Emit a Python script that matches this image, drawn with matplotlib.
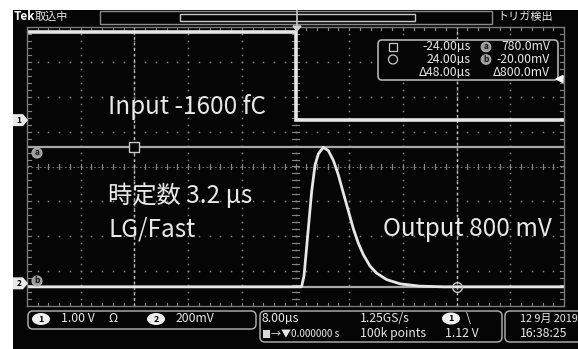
import matplotlib
matplotlib.use('Agg')

import matplotlib.pyplot as plt
from matplotlib.patches import Rectangle, FancyBboxPatch, Polygon, Circle, Ellipse
import numpy as np

plt.rcParams['font.family'] = ['Noto Sans CJK JP', 'DejaVu Sans']
NARROW = ['Liberation Sans Narrow', 'Noto Sans CJK JP', 'DejaVu Sans']

W, H = 578, 349

# scope settings
t_div = 8.0        # us/div
ch1_vdiv = 1.0     # V/div
ch2_vdiv = 200.0   # mV/div
ch1_pos = 1.33     # ground marker, div
ch2_pos = -3.35

# ch1 : input step
in_t = [-40.0, 0.0, 0.0, 40.0]
in_v = [2.52, 2.52, 0.0, 0.0]

# ch2 : shaper output
out_t = [-40.0, 0.9, 1.27, 1.67, 2.06, 2.41, 2.91, 3.40, 4.14, 4.89, 5.63, 6.38,
         7.12, 7.87, 8.61, 9.36, 10.1, 11.1, 12.1, 13.6, 15.6, 18.5, 22.0, 40.0]
out_mv = [-20, -20, 43, 211, 379, 528, 678, 742, 780, 761, 706, 622,
          519, 416, 314, 230, 165, 99, 58, 21, -3, -16, -20, -20]

# cursors
cur_t = [-24.0, 24.0]
cur_mv = [780.0, -20.0]
cur_t_txt = ['-24.00µs', '24.00µs', 'Δ48.00µs']
cur_v_txt = ['780.0mV', '-20.00mV', 'Δ800.0mV']

notes = ['Input -1600 fC', '時定数 3.2 µs', 'LG/Fast', 'Output 800 mV']

trace_c = '#e6e6e6'
grid_c = '#858585'
txt_c = '#e8e8e8'


def ch1_div(v):
    return np.asarray(v) / ch1_vdiv + ch1_pos


def ch2_div(mv):
    return np.asarray(mv) / ch2_vdiv + ch2_pos


fig = plt.figure(figsize=(W / 100, H / 100), dpi=100, facecolor='white')

# pixel-space background layer (screen frame)
bg = fig.add_axes([0, 0, 1, 1], facecolor='none', zorder=-5)
bg.set_xlim(0, W)
bg.set_ylim(H, 0)
bg.axis('off')
bg.add_patch(Rectangle((13, 10), W, H, facecolor='#050505', edgecolor='none'))

# graticule
gl, gr, gt, gb = 27, 564, 27, 306
ax = fig.add_axes([gl / W, 1 - gb / H, (gr - gl) / W, (gb - gt) / H], zorder=1)
ax.set_facecolor('#050505')
ax.set_xlim(-5 * t_div, 5 * t_div)
ax.set_ylim(-4, 4)
ax.set_xticks([])
ax.set_yticks([])
for s in ax.spines.values():
    s.set_color('#7a7a7a')
    s.set_linewidth(1)

mx = np.arange(-40, 40.01, t_div / 5)
my = np.arange(-4, 4.01, 0.2)
for gx in np.arange(-32, 33, 8):
    ax.plot(np.full_like(my, gx), my, ls='', marker='s', ms=1.1, mew=0, color=grid_c)
for gy in range(-3, 4):
    ax.plot(mx, np.full_like(mx, gy), ls='', marker='s', ms=1.1, mew=0, color=grid_c)

# crosshair and border ticks
for x in mx:
    ax.plot([x, x], [-0.07, 0.07], color=grid_c, lw=0.8)
    ax.plot([x, x], [-4, -3.9], color=grid_c, lw=0.8)
    ax.plot([x, x], [3.9, 4], color=grid_c, lw=0.8)
for y in my:
    ax.plot([-0.5, 0.5], [y, y], color=grid_c, lw=0.8)
    ax.plot([-40, -39.4], [y, y], color=grid_c, lw=0.8)
    ax.plot([39.4, 40], [y, y], color=grid_c, lw=0.8)
ax.axhline(0, color=grid_c, lw=0.6, ls=(0, (2, 3)))

# cursor lines
for t in cur_t:
    ax.axvline(t, color='#bdbdbd', lw=1, ls=(0, (2, 2)))
for mv in cur_mv:
    ax.axhline(ch2_div(mv), color='#a8a8a8', lw=1.6)
ax.plot(cur_t[0], ch2_div(cur_mv[0]), marker='s', ms=7, mfc='#050505', mec='#c8c8c8', mew=1)

# traces
ax.plot(in_t, ch1_div(in_v), color=trace_c, lw=2.6, solid_joinstyle='miter')
ax.plot(out_t, ch2_div(out_mv), color=trace_c, lw=2.0)
ax.plot(cur_t[1], ch2_div(cur_mv[1]), marker='o', ms=7, mfc='none', mec='#c8c8c8', mew=1)

# annotations
ax.text(-27.9, ch1_div(0.38), notes[0], color=txt_c, fontsize=17.5, va='center')
ax.text(-27.9, -0.85, notes[1], color=txt_c, fontsize=17.5, va='center')
ax.text(-27.9, -1.8, notes[2], color=txt_c, fontsize=17.5, va='center')
ax.text(13.0, -1.8, notes[3], color=txt_c, fontsize=17.5, va='center')

# pixel-space overlay for the scope frame
ov = fig.add_axes([0, 0, 1, 1], facecolor='none', zorder=5)
ov.set_xlim(0, W)
ov.set_ylim(H, 0)
ov.axis('off')

# header
ov.text(14, 17, 'Tek', color='white', fontsize=8.5, fontweight='bold', va='center')
ov.text(35, 17, '取込中', color=txt_c, fontsize=8, va='center')
ov.text(497, 17, 'トリガ検出', color=txt_c, fontsize=8, va='center')
ov.add_patch(Rectangle((100, 11), 392, 13, fill=False, edgecolor='#8c8c8c', lw=1))
ov.add_patch(Rectangle((180, 14), 235, 7, fill=False, edgecolor='#c8c8c8', lw=1))
ov.plot([297, 297], [11, 30], color='#c8c8c8', lw=1.2)
ov.add_patch(Polygon([[293, 26], [301, 26], [297, 31]], closed=True, color='#d0d0d0'))


def ch_marker(y, label):
    ov.add_patch(Polygon([[13, y - 6], [23, y - 6], [28, y], [23, y + 6], [13, y + 6]],
                         closed=True, facecolor='#e8e8e8', edgecolor='none'))
    ov.text(19, y, label, color='black', fontsize=6, ha='center', va='center', fontweight='bold')


def cur_badge(x, y, label, r=5):
    ov.add_patch(Circle((x, y), r, facecolor='#9a9a9a', edgecolor='#b0b0b0', lw=0.8))
    ov.text(x, y - 0.5, label, color='#151515', fontsize=6, ha='center', va='center',
            fontweight='bold')


px1 = gb - (ch1_pos + 4) * (gb - gt) / 8
px2 = gb - (ch2_pos + 4) * (gb - gt) / 8
ch_marker(px1, '1')
ch_marker(px2, '2')
cur_badge(37, 153, 'a')
cur_badge(37, 281, 'b')

# cursor readout
ov.add_patch(FancyBboxPatch((378, 40), 180, 40, boxstyle='round,pad=0,rounding_size=4',
                            facecolor='#050505', edgecolor='#b0b0b0', lw=1.2))
ov.add_patch(Rectangle((389, 43), 8, 8, fill=False, edgecolor='#c8c8c8', lw=0.9))
ov.add_patch(Circle((393, 59.5), 4.5, fill=False, edgecolor='#c8c8c8', lw=0.9))
rows = [47, 59.5, 72]
for i, y in enumerate(rows):
    ov.text(471, y, cur_t_txt[i], color=txt_c, fontsize=8.8, ha='right', va='center', family=NARROW)
    ov.text(550, y, cur_v_txt[i], color=txt_c, fontsize=8.8, ha='right', va='center', family=NARROW)
cur_badge(486, 47, 'a', 4.8)
cur_badge(486, 59.5, 'b', 4.8)
ov.add_patch(Polygon([[556, 79], [563, 75.5], [563, 82.5]], closed=True, color='white'))

# status bar
for x0, x1, y1 in [(28, 256, 329), (260, 502, 342), (505, 590, 342)]:
    ov.add_patch(FancyBboxPatch((x0, 311), x1 - x0, y1 - 311,
                                boxstyle='round,pad=0,rounding_size=5',
                                facecolor='#050505', edgecolor='#a8a8a8', lw=1.1))


def ch_badge(x, y, label):
    ov.add_patch(Ellipse((x, y), 18, 12, facecolor='#f0f0f0', edgecolor='none'))
    ov.text(x, y, label, color='black', fontsize=6.5, ha='center', va='center', fontweight='bold')


fs = 8.8
ch_badge(41, 319, '1')
ov.text(61, 319, f'{ch1_vdiv:.2f} V', color=txt_c, fontsize=fs, va='center', family=NARROW)
ov.text(108, 319, 'Ω', color=txt_c, fontsize=fs, va='center', family=NARROW)
ch_badge(156, 319, '2')
ov.text(176, 319, f'{ch2_vdiv:.0f}mV', color=txt_c, fontsize=fs, va='center', family=NARROW)

ov.text(262, 318.5, f'{t_div:.2f}µs', color=txt_c, fontsize=fs, va='center', family=NARROW)
ov.text(360, 318.5, '1.25GS/s', color=txt_c, fontsize=fs, va='center', family=NARROW)
ch_badge(451, 318.5, '1')
ov.text(466, 318, '\\', color=txt_c, fontsize=9, va='center', family=NARROW)
ov.add_patch(Rectangle((263, 329.5), 7, 8, facecolor='#d8d8d8', edgecolor='none'))
ov.text(271, 333.5, '→▼0.000000 s', color=txt_c, fontsize=7.2, va='center', family=NARROW)
ov.text(360, 333.5, '100k points', color=txt_c, fontsize=fs, va='center', family=NARROW)
ov.text(445, 333.5, '1.12 V', color=txt_c, fontsize=fs, va='center', family=NARROW)

ov.text(520, 318.5, '12 9月 2019', color=txt_c, fontsize=7.8, va='center', family=NARROW)
ov.text(520, 333.5, '16:38:25', color=txt_c, fontsize=fs, va='center', family=NARROW)

fig.savefig('out.png', dpi=100, facecolor='white')
